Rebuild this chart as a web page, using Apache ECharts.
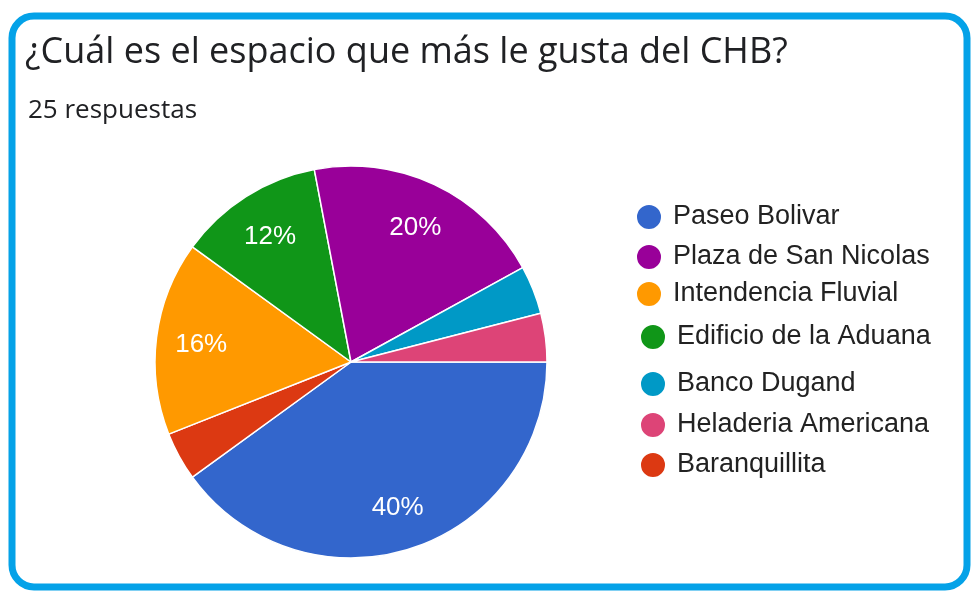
<!DOCTYPE html>
<html>
<head>
<meta charset="utf-8">
<script src="https://cdn.jsdelivr.net/npm/echarts@6/dist/echarts.min.js"></script>
<style>
  html, body { margin: 0; padding: 0; background: #fff; }
  #chart { width: 972px; height: 591px; }
</style>
</head>
<body>
<div id="chart"></div>
<script>
'use strict';
// categorias en orden de leyenda
let categories = ['Paseo Bolivar', 'Plaza de San Nicolas', 'Intendencia Fluvial', 'Edificio de la Aduana',
    'Banco Dugand', 'Heladeria Americana', 'Baranquillita'];
let respuestas = [10, 5, 4, 3, 1, 1, 1];
let colores = ['#3366cc', '#990099', '#ff9900', '#109618', '#0099c6', '#dd4477', '#dc3912'];
// orden de los sectores, en sentido horario desde las 3 en punto
let pieOrder = ['Paseo Bolivar', 'Baranquillita', 'Intendencia Fluvial', 'Edificio de la Aduana',
    'Plaza de San Nicolas', 'Banco Dugand', 'Heladeria Americana'];
let legendTops = [198, 238, 275, 318, 365, 406, 446];

let myChart = echarts.init(document.getElementById('chart'));

let pieData = [];
for (let i = 0; i < pieOrder.length; i++) {
    let idx = categories.indexOf(pieOrder[i]);
    pieData.push({
        name: pieOrder[i],
        value: respuestas[idx],
        itemStyle: { color: colores[idx] },
    });
}

// una leyenda por elemento para respetar el espaciado
let legends = [];
for (let i = 0; i < categories.length; i++) {
    legends.push({
        data: [categories[i]],
        left: i < 3 ? 630 : 634,
        top: legendTops[i],
        icon: 'circle',
        itemWidth: 26,
        itemHeight: 26,
        itemGap: 0,
        selectedMode: false,
        textStyle: {
            fontFamily: 'Liberation Sans, Arial',
            fontSize: 27,
            color: '#222',
            padding: [0, 0, 0, 6],
        },
    });
}

let option = {
    animation: false,
    title: [
        {
            text: '¿Cuál es el espacio que más le gusta del CHB?',
            left: 20,
            top: 30,
            textStyle: { fontFamily: 'Open Sans', fontWeight: 'normal', fontSize: 36, color: '#202124' },
        },
        {
            text: '25 respuestas',
            left: 23,
            top: 93,
            textStyle: { fontFamily: 'Open Sans', fontWeight: 'normal', fontSize: 26, color: '#202124' },
        },
    ],
    legend: legends,
    graphic: [
        {
            type: 'rect',
            shape: { x: 12, y: 16, width: 955, height: 571, r: 22 },
            style: { fill: 'none', stroke: '#04a2e8', lineWidth: 7 },
            silent: true,
        },
    ],
    series: [
        {
            type: 'pie',
            center: [351, 362],
            radius: [0, 196],
            startAngle: 0,
            clockwise: true,
            data: pieData,
            label: { show: false },
            labelLine: { show: false },
            itemStyle: { borderColor: '#fff', borderWidth: 1.5 },
            emphasis: { disabled: true },
        },
        {
            // anillo transparente solo para colocar las etiquetas
            type: 'pie',
            center: [351, 364],
            radius: [100, 196],
            startAngle: 0,
            clockwise: true,
            silent: true,
            data: pieData.map(function(d) {
                return { name: d.name, value: d.value, itemStyle: { color: 'rgba(0,0,0,0)' } };
            }),
            itemStyle: { borderWidth: 0 },
            label: {
                show: true,
                position: 'inside',
                color: '#fff',
                fontFamily: 'Liberation Sans, Arial',
                fontSize: 26,
                formatter: function(p) {
                    return p.percent >= 10 ? Math.round(p.percent) + '%' : '';
                },
            },
            labelLine: { show: false },
            emphasis: { disabled: true },
        },
    ],
};

myChart.setOption(option);
</script>
</body>
</html>
